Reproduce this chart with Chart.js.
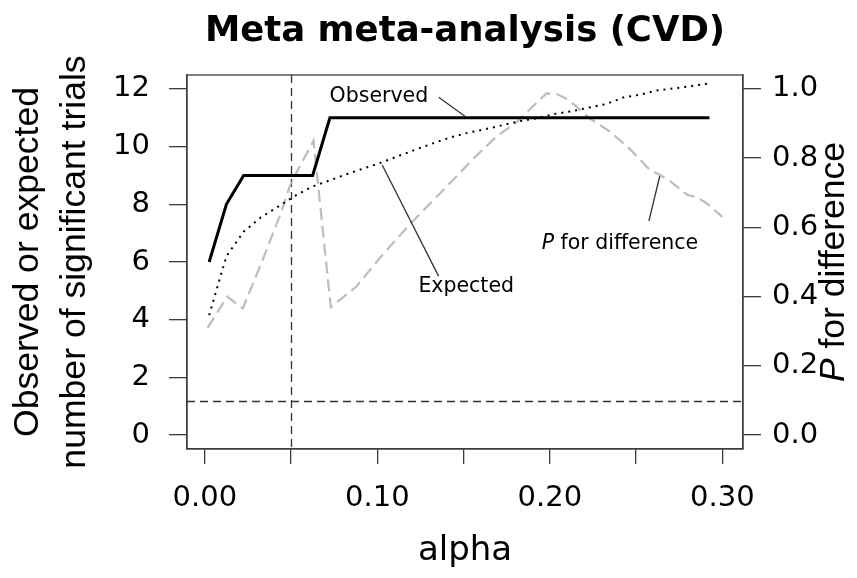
<!DOCTYPE html>
<html>
<head>
<meta charset="utf-8">
<script src="https://cdn.jsdelivr.net/npm/chart.js@4.4.0/dist/chart.umd.min.js"></script>
<style>
  html, body { margin: 0; padding: 0; background: #fff; }
  #wrap { width: 857px; height: 578px; }
</style>
</head>
<body>
<div id="wrap"><canvas id="metaChart" width="857" height="578"></canvas></div>
<script>
// alpha grid for observed / expected counts
const alphaGrid = [0.0025, 0.0125, 0.0225, 0.0325, 0.0425, 0.0525, 0.0625, 0.0725, 0.0825, 0.0925,
                   0.1025, 0.1125, 0.1225, 0.1325, 0.1425, 0.1525, 0.1625, 0.1725, 0.1825, 0.1925,
                   0.2025, 0.2125, 0.2225, 0.2325, 0.2425, 0.2525, 0.2625, 0.2725, 0.2825, 0.2925];
const observed = [6, 8, 9, 9, 9, 9, 9, 11, 11, 11,
                  11, 11, 11, 11, 11, 11, 11, 11, 11, 11,
                  11, 11, 11, 11, 11, 11, 11, 11, 11, 11];
const expected = [4.16, 6.2, 7.05, 7.55, 7.92, 8.3, 8.62, 8.83, 9.05, 9.25,
                  9.45, 9.68, 9.9, 10.12, 10.32, 10.48, 10.6, 10.74, 10.88, 10.98,
                  11.13, 11.22, 11.35, 11.47, 11.7, 11.8, 11.95, 12.02, 12.1, 12.19];

// P for difference (right axis)
const pAlpha = [0.0016, 0.013, 0.022, 0.033, 0.044, 0.05, 0.063, 0.073, 0.088, 0.102,
                0.119, 0.14, 0.156, 0.169, 0.181, 0.198, 0.204, 0.211, 0.223, 0.235,
                0.246, 0.258, 0.264, 0.27, 0.28, 0.285, 0.291, 0.30];
const pValue = [0.31, 0.40, 0.366, 0.50, 0.64, 0.73, 0.85, 0.37, 0.43, 0.515,
                0.61, 0.717, 0.80, 0.862, 0.905, 0.987, 0.985, 0.968, 0.915, 0.876,
                0.828, 0.766, 0.751, 0.732, 0.693, 0.688, 0.669, 0.63];

// reference lines
const refAlpha = 0.05;
const refP = 0.10;

// ticks
const xTickValues = [0, 0.05, 0.10, 0.15, 0.20, 0.25, 0.30];
const xTickLabels = ['0.00', '', '0.10', '', '0.20', '', '0.30'];
const yTickValues = [0, 2, 4, 6, 8, 10, 12];
const pTickValues = [0, 0.2, 0.4, 0.6, 0.8, 1.0];
const pTickLabels = ['0.0', '0.2', '0.4', '0.6', '0.8', '1.0'];

const axisColor = '#3c3c3c';
const wide = '"DejaVu Sans", sans-serif';
const narrow = '"Liberation Sans", Arial, sans-serif';

// R style 4% axis extension
const xLo = Math.min(...pAlpha), xHi = Math.max(...pAlpha);
const xMin = xLo - 0.04 * (xHi - xLo), xMax = xHi + 0.04 * (xHi - xLo);

// text annotations with leader lines (left axis units)
const notes = [
  { text: 'Observed', at: [0.1009, 11.72], from: [0.1355, 11.71], to: [0.151, 11.04] },
  { text: 'Expected', at: [0.1515, 5.13], from: [0.1028, 9.36], to: [0.1355, 5.51] },
  { text: 'for difference', italic: 'P', at: [0.2406, 6.65], from: [0.2637, 8.98], to: [0.2574, 7.42] }
];

const extras = {
  id: 'extras',
  beforeDatasetsDraw(chart) {
    const { ctx, chartArea: a, scales: { x, y1 } } = chart;
    ctx.save();
    ctx.strokeStyle = '#333';
    ctx.lineWidth = 1.3;
    ctx.setLineDash([8, 5]);
    const vx = Math.round(x.getPixelForValue(refAlpha)) + 0.5;
    const hy = Math.round(y1.getPixelForValue(refP)) + 0.5;
    ctx.beginPath();
    ctx.moveTo(vx, a.top); ctx.lineTo(vx, a.bottom);
    ctx.moveTo(a.left, hy); ctx.lineTo(a.right, hy);
    ctx.stroke();
    ctx.restore();
  },
  afterDraw(chart) {
    const { ctx, chartArea: a, scales: { x, y } } = chart;
    ctx.save();
    // box
    ctx.strokeStyle = axisColor;
    ctx.lineWidth = 1.3;
    ctx.strokeRect(a.left, a.top, a.right - a.left, a.bottom - a.top);

    // annotations
    ctx.fillStyle = '#000';
    ctx.textBaseline = 'middle';
    notes.forEach(n => {
      ctx.strokeStyle = '#333';
      ctx.lineWidth = 1.3;
      ctx.beginPath();
      ctx.moveTo(x.getPixelForValue(n.from[0]), y.getPixelForValue(n.from[1]));
      ctx.lineTo(x.getPixelForValue(n.to[0]), y.getPixelForValue(n.to[1]));
      ctx.stroke();

      const cx = x.getPixelForValue(n.at[0]), cy = y.getPixelForValue(n.at[1]);
      ctx.font = '20.5px ' + wide;
      if (n.italic) {
        const body = ' ' + n.text;
        const wb = ctx.measureText(body).width;
        ctx.font = 'italic 20.5px ' + wide;
        const wi = ctx.measureText(n.italic).width;
        let sx = cx - (wi + wb) / 2;
        ctx.textAlign = 'left';
        ctx.fillText(n.italic, sx, cy);
        ctx.font = '20.5px ' + wide;
        ctx.fillText(body, sx + wi, cy);
      } else {
        ctx.textAlign = 'center';
        ctx.fillText(n.text, cx, cy);
      }
    });

    // right axis title
    const ty = (a.top + a.bottom) / 2;
    ctx.translate(chart.width - 23, ty);
    ctx.rotate(-Math.PI / 2);
    ctx.font = 'italic 35.5px ' + narrow;
    const wP = ctx.measureText('P').width;
    ctx.font = '35.5px ' + narrow;
    const wRest = ctx.measureText(' for difference').width;
    const sx = -(wP + wRest) / 2;
    ctx.textAlign = 'left';
    ctx.font = 'italic 35.5px ' + narrow;
    ctx.fillText('P', sx, 0);
    ctx.font = '35.5px ' + narrow;
    ctx.fillText(' for difference', sx + wP, 0);
    ctx.restore();
  }
};

const ctx = document.getElementById('metaChart').getContext('2d');
new Chart(ctx, {
  type: 'line',
  data: {
    datasets: [
      {
        label: 'Observed',
        data: alphaGrid.map((a, i) => ({ x: a, y: observed[i] })),
        borderColor: '#000',
        borderWidth: 3,
        pointRadius: 0,
        tension: 0,
        yAxisID: 'y'
      },
      {
        label: 'Expected',
        data: alphaGrid.map((a, i) => ({ x: a, y: expected[i] })),
        borderColor: '#000',
        borderWidth: 2,
        borderDash: [2, 5],
        pointRadius: 0,
        tension: 0,
        yAxisID: 'y'
      },
      {
        label: 'P for difference',
        data: pAlpha.map((a, i) => ({ x: a, y: pValue[i] })),
        borderColor: '#bdbdbd',
        borderWidth: 2.2,
        borderDash: [12, 6],
        pointRadius: 0,
        tension: 0,
        yAxisID: 'y1'
      }
    ]
  },
  options: {
    responsive: false,
    animation: false,
    layout: { padding: 0 },
    plugins: {
      legend: { display: false },
      tooltip: { enabled: false },
      title: {
        display: true,
        fullSize: false,
        text: 'Meta meta-analysis (CVD)',
        color: '#000',
        font: { family: wide, size: 35.5, weight: 'bold', lineHeight: 1.2 },
        padding: { top: 10.7, bottom: 21.7 }
      }
    },
    scales: {
      x: {
        type: 'linear',
        min: xMin,
        max: xMax,
        afterBuildTicks: s => { s.ticks = xTickValues.map(v => ({ value: v })); },
        afterFit: s => { s.height = 129; },
        border: { display: true, color: axisColor, width: 1.3 },
        grid: { drawOnChartArea: false, tickLength: 15, color: axisColor, lineWidth: 1.3 },
        ticks: {
          autoSkip: false, maxRotation: 0, padding: 17, color: '#000',
          font: { family: wide, size: 29 },
          callback: (v, i) => xTickLabels[i]
        },
        title: {
          display: true, text: 'alpha', color: '#000',
          font: { family: wide, size: 34, lineHeight: 1.2 },
          padding: { top: 0, bottom: 6.6 }
        }
      },
      y: {
        position: 'left',
        min: -0.48,
        max: 12.48,
        afterBuildTicks: s => { s.ticks = yTickValues.map(v => ({ value: v })); },
        afterFit: s => { s.width = 187; },
        border: { display: true, color: axisColor, width: 1.3 },
        grid: { drawOnChartArea: false, tickLength: 18, color: axisColor, lineWidth: 1.3 },
        ticks: { padding: 19, color: '#000', font: { family: wide, size: 29 } },
        title: {
          display: true,
          text: ['Observed or expected', 'number of significant trials'],
          color: '#000',
          font: { family: narrow, size: 35.6, lineHeight: 1.32 },
          padding: { top: 4.5, bottom: 0 }
        }
      },
      y1: {
        position: 'right',
        min: -0.04,
        max: 1.04,
        afterBuildTicks: s => { s.ticks = pTickValues.map(v => ({ value: v })); },
        afterFit: s => { s.width = 114; },
        border: { display: true, color: axisColor, width: 1.3 },
        grid: { drawOnChartArea: false, tickLength: 18, color: axisColor, lineWidth: 1.3 },
        ticks: {
          padding: 11, color: '#000', font: { family: wide, size: 29 },
          callback: (v, i) => pTickLabels[i]
        }
      }
    }
  },
  plugins: [extras]
});
</script>
</body>
</html>
